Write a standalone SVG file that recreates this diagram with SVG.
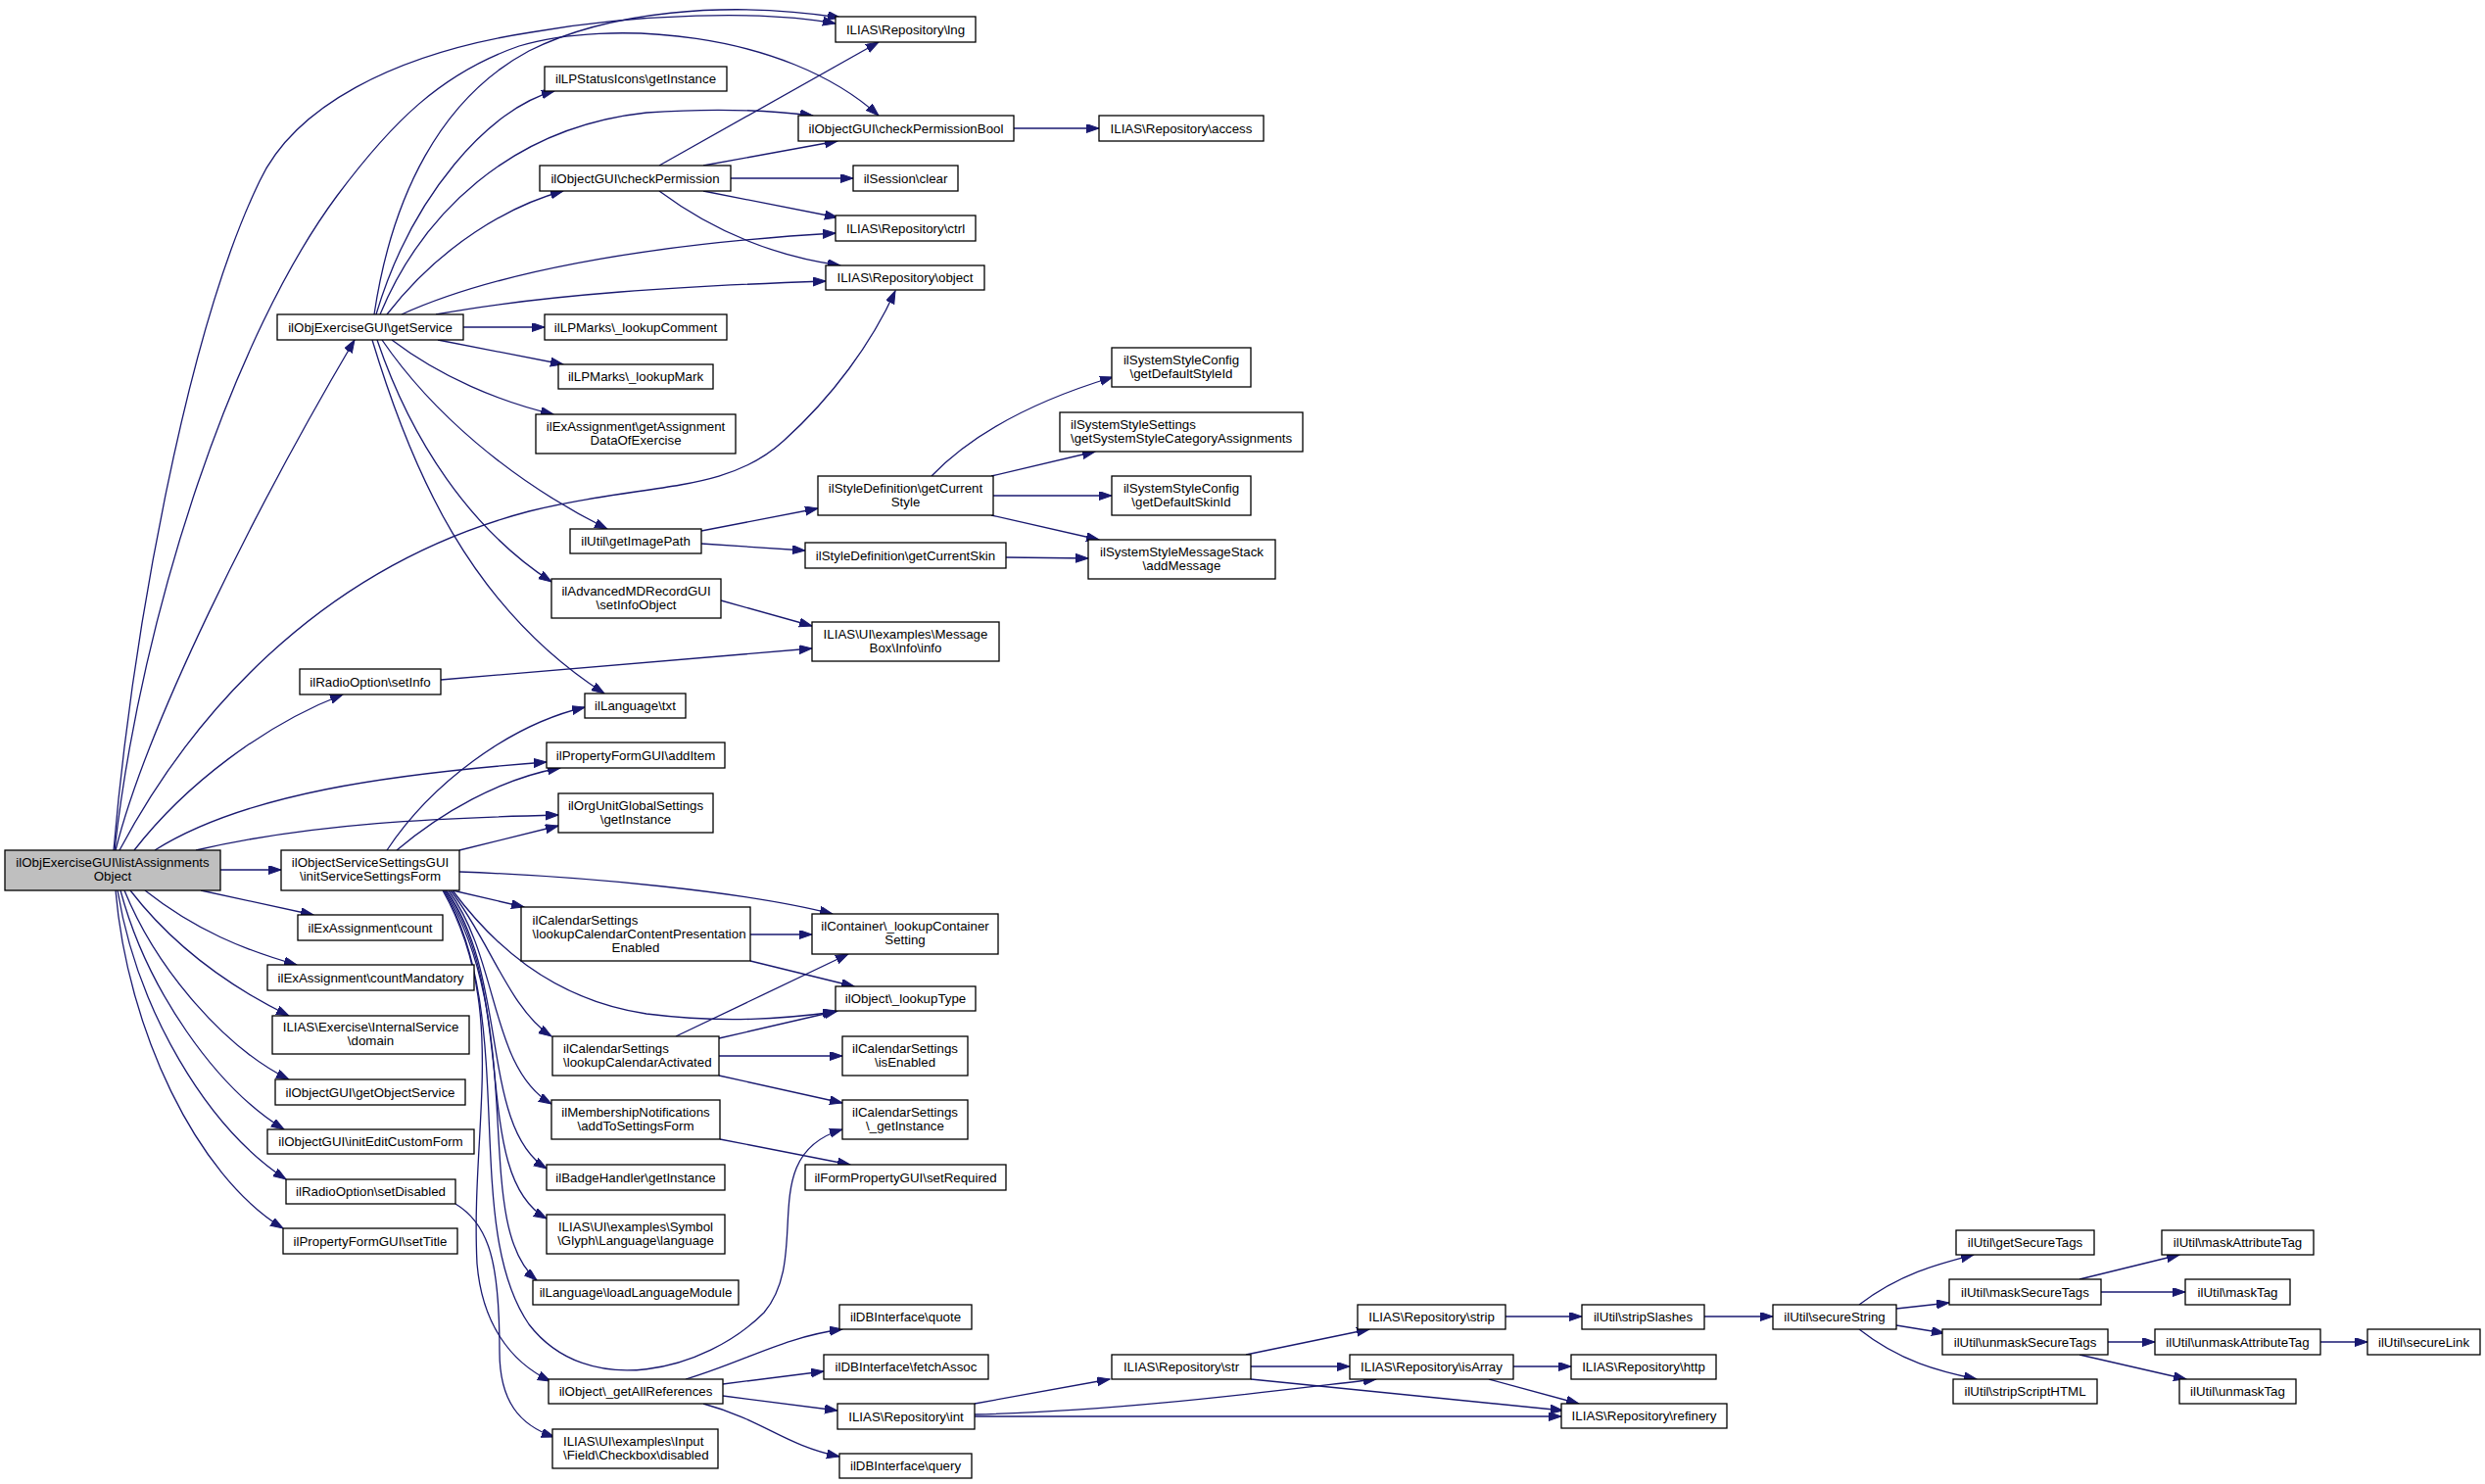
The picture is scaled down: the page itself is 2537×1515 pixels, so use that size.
<svg xmlns="http://www.w3.org/2000/svg" width="2537" height="1515" viewBox="0 0 2537 1515">
<style>
.n rect{fill:#fff;stroke:#000;stroke-width:1.3}
.root rect{fill:#bfbfbf}
text{font-family:"Liberation Sans",Arial,sans-serif;font-size:13.3px;fill:#000;text-anchor:middle}
text.l{text-anchor:start}
.e path{fill:none;stroke:#191970;stroke-width:1.3;marker-end:url(#arr)}
</style>
<defs>
<marker id="arr" markerWidth="14" markerHeight="10" refX="13" refY="4.5" orient="auto" markerUnits="userSpaceOnUse"><path d="M0,0 L13,4.5 L0,9 z" fill="#191970" stroke="#191970" stroke-width="1"/></marker>
</defs>
<rect width="2537" height="1515" fill="#fff"/>
<g class="e" id="edges">
<path d="M116,868 C135,650 190,340 265,185 C300,110 400,55 542,33 C650,14 780,10 853,24"/>
<path d="M117,868 C145,620 240,340 344,200 C400,125 450,75 530,47 C620,20 800,30 897,118"/>
<path d="M118,868 C150,740 260,520 362,347"/>
<path d="M122,868 C190,740 320,580 540,522 C660,492 740,505 800,450 C850,405 890,350 914,297"/>
<path d="M137,868 C190,800 270,740 350,709"/>
<path d="M158,868 C250,810 400,790 558,778"/>
<path d="M200,868 C320,840 450,835 570,832"/>
<path d="M225,888 L287,888"/>
<path d="M205,909 L320,934"/>
<path d="M148,909 C200,950 250,970 303,985"/>
<path d="M133,909 C180,970 240,1010 295,1037"/>
<path d="M127,909 C160,990 230,1070 295,1102"/>
<path d="M123,909 C150,1010 220,1110 290,1153"/>
<path d="M120,909 C140,1030 210,1150 292,1204"/>
<path d="M118,909 C130,1050 200,1200 289,1254"/>
<path d="M382,321 C400,200 450,100 540,52 C620,12 740,0 858,18"/>
<path d="M384,321 C420,200 500,110 566,93"/>
<path d="M388,321 C430,220 520,130 660,115 C730,110 790,113 830,118"/>
<path d="M395,321 C450,250 520,210 575,195"/>
<path d="M410,321 C500,280 650,250 853,238"/>
<path d="M445,321 C560,300 700,292 843,287"/>
<path d="M473,334 L556,334"/>
<path d="M447,347 L575,372"/>
<path d="M400,347 C450,385 510,410 565,423"/>
<path d="M390,347 C440,420 520,490 620,540"/>
<path d="M385,347 C420,450 480,540 563,594"/>
<path d="M380,347 C420,480 480,620 617,708"/>
<path d="M673,169 L897,43"/>
<path d="M718,169 L855,144"/>
<path d="M746,182 L871,182"/>
<path d="M718,195 L855,222"/>
<path d="M673,195 C720,230 780,260 858,271"/>
<path d="M1035,131 L1122,131"/>
<path d="M716,542 L835,519"/>
<path d="M716,555 L822,562"/>
<path d="M951,486 C1000,435 1070,405 1136,385"/>
<path d="M1012,486 L1118,461"/>
<path d="M1014,506 L1135,506"/>
<path d="M1012,526 L1122,551"/>
<path d="M1027,569 L1111,570"/>
<path d="M736,613 L829,639"/>
<path d="M450,694 L829,662"/>
<path d="M395,868 C440,800 520,740 597,722"/>
<path d="M405,868 C450,830 510,795 572,784"/>
<path d="M469,868 L570,843"/>
<path d="M469,890 C600,895 760,910 850,933"/>
<path d="M462,909 L535,926"/>
<path d="M462,909 C500,960 560,1020 660,1035 C740,1045 800,1040 853,1033"/>
<path d="M460,909 C500,960 520,1030 563,1058"/>
<path d="M458,909 C510,980 500,1090 563,1127"/>
<path d="M456,909 C520,1000 490,1150 558,1193"/>
<path d="M455,909 C530,1020 480,1200 558,1244"/>
<path d="M454,909 C540,1050 480,1250 548,1307"/>
<path d="M453,909 C530,1040 470,1250 540,1352 C600,1430 720,1400 780,1340 C830,1280 770,1180 860,1153"/>
<path d="M452,909 C520,1030 480,1150 487,1290 C492,1350 520,1390 562,1410"/>
<path d="M465,1229 C500,1250 510,1290 510,1380 C510,1430 530,1455 566,1467"/>
<path d="M766,954 L829,954"/>
<path d="M766,981 L872,1007"/>
<path d="M690,1058 L866,974"/>
<path d="M734,1060 L855,1032"/>
<path d="M734,1078 L860,1078"/>
<path d="M734,1098 L860,1126"/>
<path d="M735,1163 L868,1189"/>
<path d="M700,1408 C760,1390 800,1365 860,1357"/>
<path d="M738,1413 L841,1400"/>
<path d="M738,1425 L855,1440"/>
<path d="M718,1433 C780,1450 800,1475 857,1487"/>
<path d="M995,1433 L1133,1408"/>
<path d="M995,1444 C1150,1440 1300,1420 1405,1408"/>
<path d="M995,1446 L1594,1446"/>
<path d="M1272,1383 L1398,1357"/>
<path d="M1277,1395 L1378,1395"/>
<path d="M1277,1408 L1596,1440"/>
<path d="M1537,1344 L1615,1344"/>
<path d="M1545,1395 L1604,1395"/>
<path d="M1520,1408 L1612,1433"/>
<path d="M1740,1344 L1810,1344"/>
<path d="M1898,1332 C1940,1300 1980,1290 2015,1281"/>
<path d="M1936,1336 L1990,1330"/>
<path d="M1936,1353 L1985,1361"/>
<path d="M1898,1357 C1940,1390 1980,1400 2018,1408"/>
<path d="M2123,1306 L2225,1281"/>
<path d="M2145,1319 L2231,1319"/>
<path d="M2152,1370 L2200,1370"/>
<path d="M2123,1383 L2232,1408"/>
<path d="M2369,1370 L2417,1370"/>
</g>
<g class="n root" id="n_list"><rect x="5" y="868" width="220" height="41"/><text x="115" y="885.2">ilObjExerciseGUI\listAssignments</text><text x="115" y="899.2">Object</text></g>
<g class="n" id="n_getService"><rect x="283" y="321" width="190" height="26"/><text x="378" y="338.7">ilObjExerciseGUI\getService</text></g>
<g class="n" id="n_initSSF"><rect x="287" y="868" width="182" height="41"/><text x="378" y="885.2">ilObjectServiceSettingsGUI</text><text x="378" y="899.2">\initServiceSettingsForm</text></g>
<g class="n" id="n_count"><rect x="304" y="934" width="148" height="26"/><text x="378" y="951.7">ilExAssignment\count</text></g>
<g class="n" id="n_countMand"><rect x="273" y="985" width="211" height="26"/><text x="378.5" y="1002.7">ilExAssignment\countMandatory</text></g>
<g class="n" id="n_domain"><rect x="278" y="1037" width="201" height="39"/><text x="378.5" y="1053.2">ILIAS\Exercise\InternalService</text><text x="378.5" y="1067.2">\domain</text></g>
<g class="n" id="n_getObjSvc"><rect x="281" y="1102" width="194" height="26"/><text x="378" y="1119.7">ilObjectGUI\getObjectService</text></g>
<g class="n" id="n_initEdit"><rect x="273" y="1153" width="211" height="25"/><text x="378.5" y="1170.2">ilObjectGUI\initEditCustomForm</text></g>
<g class="n" id="n_setDisabled"><rect x="292" y="1204" width="173" height="25"/><text x="378.5" y="1221.2">ilRadioOption\setDisabled</text></g>
<g class="n" id="n_setTitle"><rect x="289" y="1254" width="178" height="26"/><text x="378" y="1271.7">ilPropertyFormGUI\setTitle</text></g>
<g class="n" id="n_setInfo"><rect x="306" y="683" width="144" height="26"/><text x="378" y="700.7">ilRadioOption\setInfo</text></g>
<g class="n" id="n_lpstatus"><rect x="556" y="68" width="186" height="25"/><text x="649" y="85.2">ilLPStatusIcons\getInstance</text></g>
<g class="n" id="n_checkPerm"><rect x="551" y="169" width="195" height="26"/><text x="648.5" y="186.7">ilObjectGUI\checkPermission</text></g>
<g class="n" id="n_lookupComment"><rect x="556" y="321" width="186" height="26"/><text x="649" y="338.7">ilLPMarks\_lookupComment</text></g>
<g class="n" id="n_lookupMark"><rect x="570" y="372" width="158" height="25"/><text x="649" y="389.2">ilLPMarks\_lookupMark</text></g>
<g class="n" id="n_getAssign"><rect x="547" y="423" width="204" height="40"/><text x="649" y="439.7">ilExAssignment\getAssignment</text><text x="649" y="453.7">DataOfExercise</text></g>
<g class="n" id="n_getImagePath"><rect x="582" y="540" width="134" height="25"/><text x="649" y="557.2">ilUtil\getImagePath</text></g>
<g class="n" id="n_setInfoObj"><rect x="563" y="591" width="173" height="40"/><text x="649.5" y="607.7">ilAdvancedMDRecordGUI</text><text x="649.5" y="621.7">\setInfoObject</text></g>
<g class="n" id="n_txt"><rect x="597" y="708" width="103" height="25"/><text x="648.5" y="725.2">ilLanguage\txt</text></g>
<g class="n" id="n_addItem"><rect x="558" y="758" width="182" height="26"/><text x="649" y="775.7">ilPropertyFormGUI\addItem</text></g>
<g class="n" id="n_orgUnit"><rect x="570" y="810" width="158" height="40"/><text x="649" y="826.7">ilOrgUnitGlobalSettings</text><text x="649" y="840.7">\getInstance</text></g>
<g class="n" id="n_calContent"><rect x="532" y="926" width="234" height="55"/><text class="l" x="543.5" y="943.7">ilCalendarSettings</text><text class="l" x="543.5" y="958">\lookupCalendarContentPresentation</text><text x="649" y="972.2">Enabled</text></g>
<g class="n" id="n_calActivated"><rect x="564" y="1058" width="170" height="40"/><text class="l" x="575" y="1074.7">ilCalendarSettings</text><text class="l" x="575" y="1088.7">\lookupCalendarActivated</text></g>
<g class="n" id="n_addToSettings"><rect x="563" y="1123" width="172" height="40"/><text x="649" y="1139.7">ilMembershipNotifications</text><text x="649" y="1153.7">\addToSettingsForm</text></g>
<g class="n" id="n_badge"><rect x="558" y="1189" width="182" height="26"/><text x="649" y="1206.7">ilBadgeHandler\getInstance</text></g>
<g class="n" id="n_glyph"><rect x="558" y="1240" width="182" height="40"/><text x="649" y="1256.7">ILIAS\UI\examples\Symbol</text><text x="649" y="1270.7">\Glyph\Language\language</text></g>
<g class="n" id="n_loadLang"><rect x="544" y="1307" width="210" height="25"/><text x="649" y="1324.2">ilLanguage\loadLanguageModule</text></g>
<g class="n" id="n_getAllRefs"><rect x="560" y="1408" width="178" height="25"/><text x="649" y="1425.2">ilObject\_getAllReferences</text></g>
<g class="n" id="n_checkbox"><rect x="564" y="1459" width="169" height="40"/><text class="l" x="575" y="1475.7">ILIAS\UI\examples\Input</text><text class="l" x="575" y="1489.7">\Field\Checkbox\disabled</text></g>
<g class="n" id="n_lng"><rect x="853" y="17" width="143" height="26"/><text x="924.5" y="34.7">ILIAS\Repository\lng</text></g>
<g class="n" id="n_checkPermBool"><rect x="815" y="118" width="220" height="26"/><text x="925" y="135.7">ilObjectGUI\checkPermissionBool</text></g>
<g class="n" id="n_access"><rect x="1122" y="118" width="168" height="26"/><text x="1206" y="135.7">ILIAS\Repository\access</text></g>
<g class="n" id="n_sessClear"><rect x="871" y="169" width="107" height="26"/><text x="924.5" y="186.7">ilSession\clear</text></g>
<g class="n" id="n_ctrl"><rect x="853" y="220" width="143" height="26"/><text x="924.5" y="237.7">ILIAS\Repository\ctrl</text></g>
<g class="n" id="n_object"><rect x="843" y="271" width="162" height="25"/><text x="924" y="288.2">ILIAS\Repository\object</text></g>
<g class="n" id="n_defStyleId"><rect x="1135" y="355" width="142" height="40"/><text x="1206" y="371.7">ilSystemStyleConfig</text><text x="1206" y="385.7">\getDefaultStyleId</text></g>
<g class="n" id="n_catAssign"><rect x="1082" y="421" width="248" height="40"/><text class="l" x="1093" y="437.7">ilSystemStyleSettings</text><text class="l" x="1093" y="451.7">\getSystemStyleCategoryAssignments</text></g>
<g class="n" id="n_curStyle"><rect x="835" y="486" width="179" height="40"/><text x="924.5" y="502.7">ilStyleDefinition\getCurrent</text><text x="924.5" y="516.7">Style</text></g>
<g class="n" id="n_defSkinId"><rect x="1135" y="486" width="142" height="40"/><text x="1206" y="502.7">ilSystemStyleConfig</text><text x="1206" y="516.7">\getDefaultSkinId</text></g>
<g class="n" id="n_curSkin"><rect x="822" y="554" width="205" height="26"/><text x="924.5" y="571.7">ilStyleDefinition\getCurrentSkin</text></g>
<g class="n" id="n_addMessage"><rect x="1111" y="551" width="191" height="40"/><text x="1206.5" y="567.7">ilSystemStyleMessageStack</text><text x="1206.5" y="581.7">\addMessage</text></g>
<g class="n" id="n_info"><rect x="829" y="635" width="191" height="40"/><text x="924.5" y="651.7">ILIAS\UI\examples\Message</text><text x="924.5" y="665.7">Box\Info\info</text></g>
<g class="n" id="n_containerSetting"><rect x="829" y="933" width="190" height="41"/><text x="924" y="950.2">ilContainer\_lookupContainer</text><text x="924" y="964.2">Setting</text></g>
<g class="n" id="n_lookupType"><rect x="853" y="1007" width="143" height="25"/><text x="924.5" y="1024.2">ilObject\_lookupType</text></g>
<g class="n" id="n_isEnabled"><rect x="860" y="1058" width="128" height="40"/><text x="924" y="1074.7">ilCalendarSettings</text><text x="924" y="1088.7">\isEnabled</text></g>
<g class="n" id="n_calGetInst"><rect x="860" y="1123" width="128" height="40"/><text x="924" y="1139.7">ilCalendarSettings</text><text x="924" y="1153.7">\_getInstance</text></g>
<g class="n" id="n_setRequired"><rect x="822" y="1189" width="205" height="26"/><text x="924.5" y="1206.7">ilFormPropertyGUI\setRequired</text></g>
<g class="n" id="n_quote"><rect x="857" y="1332" width="135" height="25"/><text x="924.5" y="1349.2">ilDBInterface\quote</text></g>
<g class="n" id="n_fetchAssoc"><rect x="841" y="1383" width="168" height="25"/><text x="925" y="1400.2">ilDBInterface\fetchAssoc</text></g>
<g class="n" id="n_int"><rect x="855" y="1433" width="140" height="26"/><text x="925" y="1450.7">ILIAS\Repository\int</text></g>
<g class="n" id="n_query"><rect x="857" y="1484" width="135" height="25"/><text x="924.5" y="1501.2">ilDBInterface\query</text></g>
<g class="n" id="n_str"><rect x="1135" y="1383" width="142" height="25"/><text x="1206" y="1400.2">ILIAS\Repository\str</text></g>
<g class="n" id="n_strip"><rect x="1386" y="1332" width="151" height="25"/><text x="1461.5" y="1349.2">ILIAS\Repository\strip</text></g>
<g class="n" id="n_isArray"><rect x="1378" y="1383" width="167" height="25"/><text x="1461.5" y="1400.2">ILIAS\Repository\isArray</text></g>
<g class="n" id="n_stripSlashes"><rect x="1615" y="1332" width="125" height="25"/><text x="1677.5" y="1349.2">ilUtil\stripSlashes</text></g>
<g class="n" id="n_http"><rect x="1604" y="1383" width="148" height="25"/><text x="1678" y="1400.2">ILIAS\Repository\http</text></g>
<g class="n" id="n_refinery"><rect x="1594" y="1433" width="169" height="25"/><text x="1678.5" y="1450.2">ILIAS\Repository\refinery</text></g>
<g class="n" id="n_secureString"><rect x="1810" y="1332" width="126" height="25"/><text x="1873" y="1349.2">ilUtil\secureString</text></g>
<g class="n" id="n_getSecureTags"><rect x="1997" y="1256" width="141" height="25"/><text x="2067.5" y="1273.2">ilUtil\getSecureTags</text></g>
<g class="n" id="n_maskSecureTags"><rect x="1990" y="1306" width="155" height="26"/><text x="2067.5" y="1323.7">ilUtil\maskSecureTags</text></g>
<g class="n" id="n_unmaskSecureTags"><rect x="1983" y="1357" width="169" height="26"/><text x="2067.5" y="1374.7">ilUtil\unmaskSecureTags</text></g>
<g class="n" id="n_stripScript"><rect x="1994" y="1408" width="147" height="25"/><text x="2067.5" y="1425.2">ilUtil\stripScriptHTML</text></g>
<g class="n" id="n_maskAttr"><rect x="2207" y="1256" width="155" height="25"/><text x="2284.5" y="1273.2">ilUtil\maskAttributeTag</text></g>
<g class="n" id="n_maskTag"><rect x="2231" y="1306" width="107" height="26"/><text x="2284.5" y="1323.7">ilUtil\maskTag</text></g>
<g class="n" id="n_unmaskAttr"><rect x="2200" y="1357" width="169" height="26"/><text x="2284.5" y="1374.7">ilUtil\unmaskAttributeTag</text></g>
<g class="n" id="n_unmaskTag"><rect x="2225" y="1408" width="119" height="25"/><text x="2284.5" y="1425.2">ilUtil\unmaskTag</text></g>
<g class="n" id="n_secureLink"><rect x="2417" y="1357" width="115" height="26"/><text x="2474.5" y="1374.7">ilUtil\secureLink</text></g>
</svg>
